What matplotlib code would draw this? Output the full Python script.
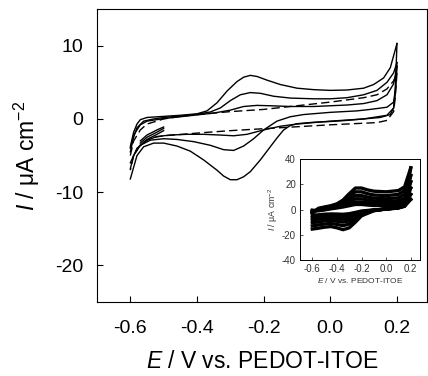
import matplotlib
matplotlib.use("Agg")
import matplotlib.pyplot as plt
import logging
logging.getLogger('matplotlib.font_manager').setLevel(logging.ERROR)

plt.rcParams['font.family'] = ['Liberation Sans', 'DejaVu Sans']
plt.rcParams['mathtext.fontset'] = 'custom'
plt.rcParams['mathtext.rm'] = 'Liberation Sans'
plt.rcParams['mathtext.it'] = 'Liberation Sans:italic'

# ---------------- main panel data ----------------
# curve 1 (largest)
c1_fwd_E = [-0.6, -0.59, -0.58, -0.57, -0.55, -0.5, -0.45, -0.4, -0.37, -0.34, -0.31, -0.28, -0.26, -0.24,
            -0.22, -0.19, -0.15, -0.1, -0.05, 0.0, 0.05, 0.1, 0.13, 0.16, 0.18, 0.2]
c1_fwd_I = [-3.8, -1.8, -0.7, -0.1, 0.2, 0.35, 0.5, 0.7, 1.1, 2.2, 3.8, 5.1, 5.7, 5.95,
            5.8, 5.3, 4.7, 4.2, 4.0, 3.9, 3.95, 4.2, 4.7, 5.6, 7.0, 10.3]
c1_rev_E = [0.2, 0.195, 0.19, 0.18, 0.15, 0.1, 0.05, 0.0, -0.05, -0.1, -0.12, -0.14, -0.16, -0.18,
            -0.21, -0.24, -0.26, -0.28, -0.3, -0.32, -0.34, -0.38, -0.42, -0.46, -0.5, -0.53, -0.56, -0.58, -0.6]
c1_rev_I = [10.3, 4.0, 1.5, 0.6, 0.2, 0.0, -0.2, -0.35, -0.45, -0.65, -0.9, -1.5, -2.6, -3.8,
            -5.6, -7.2, -7.9, -8.3, -8.3, -7.8, -7.0, -5.6, -4.4, -3.7, -3.3, -3.3, -3.8, -5.0, -8.2]
c1_start_E = [-0.5, -0.52, -0.55, -0.57]
c1_start_I = [-1.6, -2.1, -2.8, -3.6]

# curve 2
c2_fwd_E = [-0.6, -0.59, -0.58, -0.56, -0.53, -0.5, -0.45, -0.4, -0.36, -0.33, -0.3, -0.27, -0.24,
            -0.21, -0.17, -0.12, -0.05, 0.0, 0.05, 0.1, 0.14, 0.17, 0.19, 0.2]
c2_fwd_I = [-4.5, -2.5, -1.2, -0.3, 0.0, 0.2, 0.4, 0.65, 0.95, 1.5, 2.5, 3.3, 3.6,
            3.5, 3.1, 2.85, 2.75, 2.75, 2.9, 3.3, 3.9, 5.0, 6.3, 7.7]
c2_rev_E = [0.2, 0.195, 0.19, 0.17, 0.12, 0.08, 0.0, -0.08, -0.12, -0.16, -0.2, -0.23, -0.26,
            -0.29, -0.32, -0.36, -0.41, -0.46, -0.5, -0.54, -0.57, -0.59, -0.6]
c2_rev_I = [7.7, 4.0, 2.3, 1.6, 1.3, 1.1, 0.9, 0.6, 0.3, -0.3, -1.5, -2.7, -3.7,
            -4.3, -4.2, -3.6, -3.1, -2.8, -2.7, -2.9, -3.6, -5.0, -6.8]
c2_start_E = [-0.5, -0.52, -0.55, -0.57]
c2_start_I = [-1.3, -1.8, -2.5, -3.3]

# curve 3
c3_fwd_E = [-0.6, -0.59, -0.57, -0.55, -0.5, -0.45, -0.4, -0.35, -0.3, -0.26, -0.22, -0.18, -0.12,
            -0.05, 0.0, 0.05, 0.1, 0.14, 0.17, 0.19, 0.2]
c3_fwd_I = [-4.0, -2.2, -0.8, -0.3, 0.05, 0.3, 0.55, 0.8, 1.2, 1.7, 1.85, 1.8, 1.7,
            1.7, 1.8, 1.9, 2.1, 2.5, 3.3, 4.8, 7.2]
c3_rev_E = [0.2, 0.195, 0.19, 0.17, 0.1, 0.0, -0.1, -0.15, -0.2, -0.25, -0.29, -0.33, -0.38,
            -0.43, -0.48, -0.52, -0.55, -0.58, -0.6]
c3_rev_I = [7.2, 3.5, 1.5, 0.5, 0.0, -0.3, -0.7, -1.0, -1.5, -2.1, -2.3, -2.2, -2.1,
            -2.1, -2.2, -2.4, -2.9, -4.0, -6.0]
c3_start_E = [-0.5, -0.52, -0.55, -0.57]
c3_start_I = [-1.1, -1.5, -2.2, -3.0]

# background (dashed)
bg_fwd_E = [-0.6, -0.59, -0.57, -0.55, -0.5, -0.45, -0.4, -0.3, -0.2, -0.1, 0.0, 0.1, 0.14,
            0.17, 0.19, 0.2]
bg_fwd_I = [-5.0, -3.0, -1.5, -0.7, 0.0, 0.35, 0.6, 1.0, 1.3, 1.8, 2.3, 2.9, 3.3,
            4.1, 5.2, 6.3]
bg_rev_E = [0.2, 0.195, 0.19, 0.17, 0.14, 0.0, -0.15, -0.3, -0.39, -0.5, -0.54, -0.57, -0.59, -0.6]
bg_rev_I = [6.3, 3.0, 1.0, -0.2, -0.5, -0.8, -1.2, -1.6, -1.9, -2.3, -2.6, -3.5, -5.0, -7.0]

main_xticks = [-0.6, -0.4, -0.2, 0.0, 0.2]
main_xticklabels = ['-0.6', '-0.4', '-0.2', '0.0', '0.2']
main_yticks = [10, 0, -10, -20]
main_yticklabels = ['10', '0', '-10', '-20']

# ---------------- inset data ----------------
in_fwd_E = [-0.6, -0.55, -0.5, -0.45, -0.4, -0.35, -0.3, -0.25, -0.2, -0.15, -0.1, 0.0, 0.1, 0.15, 0.2]
in_rev_E = [0.2, 0.15, 0.1, 0.0, -0.1, -0.2, -0.25, -0.3, -0.35, -0.4, -0.45, -0.5, -0.55, -0.6]
in_fwd_I = [
    [-3.0, 1.0, 2.0, 3.0, 4.5, 7.5, 12.5, 17.0, 17.0, 15.5, 14.5, 14.0, 15.0, 18.0, 33.0],
    [-2.5, 0.5, 1.5, 2.5, 3.8, 6.5, 10.5, 14.0, 14.0, 12.5, 11.5, 11.0, 12.0, 15.0, 27.0],
    [-2.0, 0.0, 1.0, 2.0, 3.0, 5.0, 8.5, 11.0, 11.0, 9.8, 9.0, 8.5, 9.3, 12.0, 22.0],
    [-1.5, -0.5, 0.5, 1.5, 2.3, 4.0, 6.5, 8.5, 8.5, 7.5, 6.8, 6.3, 7.0, 9.0, 17.0],
    [-1.0, -0.8, 0.0, 1.0, 1.8, 3.0, 4.8, 6.0, 6.0, 5.3, 4.8, 4.5, 5.0, 6.5, 12.0],
    [-0.5, -1.0, -0.3, 0.5, 1.2, 2.0, 3.0, 4.0, 4.0, 3.5, 3.2, 3.0, 3.5, 4.5, 8.0],
]
in_rev_I = [
    [33.0, 3.0, 1.5, 0.5, -1.0, -5.0, -10.0, -14.5, -16.0, -14.5, -13.5, -14.0, -14.8, -15.5],
    [27.0, 3.0, 1.5, 0.5, -0.8, -4.0, -8.0, -11.5, -12.8, -11.8, -11.0, -11.5, -12.2, -13.0],
    [22.0, 3.0, 1.5, 0.5, -0.6, -3.0, -6.3, -9.0, -10.0, -9.3, -8.7, -9.0, -9.8, -10.5],
    [17.0, 3.0, 1.5, 0.4, -0.5, -2.3, -4.8, -7.0, -7.7, -7.2, -6.8, -7.0, -7.6, -8.2],
    [12.0, 2.8, 1.4, 0.3, -0.4, -1.7, -3.5, -5.0, -5.6, -5.3, -5.0, -5.2, -5.8, -6.3],
    [8.0, 2.5, 1.2, 0.2, -0.3, -1.2, -2.3, -3.3, -3.8, -3.6, -3.5, -3.7, -4.2, -4.5],
]
in_xticks = [-0.6, -0.4, -0.2, 0.0, 0.2]
in_xticklabels = ['-0.6', '-0.4', '-0.2', '0.0', '0.2']
in_yticks = [-40, -20, 0, 20, 40]
in_yticklabels = ['-40', '-20', '0', '20', '40']

# ---------------- figure ----------------
fig = plt.figure(figsize=(4.28, 3.76), dpi=100)
ax = fig.add_axes([0.2266, 0.1968, 0.771, 0.779])

lw = 1.0
for E, I in [(c1_fwd_E, c1_fwd_I), (c1_rev_E, c1_rev_I), (c1_start_E, c1_start_I),
             (c2_fwd_E, c2_fwd_I), (c2_rev_E, c2_rev_I), (c2_start_E, c2_start_I),
             (c3_fwd_E, c3_fwd_I), (c3_rev_E, c3_rev_I), (c3_start_E, c3_start_I)]:
    ax.plot(E, I, color='black', lw=lw, solid_joinstyle='round')
ax.plot(bg_fwd_E, bg_fwd_I, color='black', lw=lw, ls=(0, (6, 3)))
ax.plot(bg_rev_E, bg_rev_I, color='black', lw=lw, ls=(0, (6, 3)))

ax.set_xlim(-0.7, 0.29)
ax.set_ylim(-25, 15)
ax.set_xticks(main_xticks)
ax.set_xticklabels(main_xticklabels)
ax.set_yticks(main_yticks)
ax.set_yticklabels(main_yticklabels)
ax.tick_params(direction='in', length=4, width=0.8, labelsize=14)
ax.tick_params(axis='x', pad=13)
ax.tick_params(axis='y', pad=10)
for s in ax.spines.values():
    s.set_linewidth(0.8)
ax.set_xlabel(r'$\it{E}$ / V vs. PEDOT-ITOE', fontsize=16.5, labelpad=9)
ax.set_ylabel(r'$\it{I}$ / $\mathrm{\mu}$A cm$^{-2}$', fontsize=16.5, labelpad=9)

# inset
axi = fig.add_axes([0.7009, 0.3085, 0.2804, 0.2686])
for k in range(len(in_fwd_I)):
    axi.plot(in_fwd_E, in_fwd_I[k], color='black', lw=2.4)
    axi.plot(in_rev_E, in_rev_I[k], color='black', lw=2.4)
axi.set_xlim(-0.7, 0.275)
axi.set_ylim(-40, 40)
axi.set_xticks(in_xticks)
axi.set_xticklabels(in_xticklabels)
axi.set_yticks(in_yticks)
axi.set_yticklabels(in_yticklabels)
axi.tick_params(direction='in', length=2, width=0.6, labelsize=7, pad=3, colors='#333333')
for s in axi.spines.values():
    s.set_linewidth(0.7)
axi.set_xlabel(r'$\it{E}$ / V vs. PEDOT-ITOE', fontsize=6, labelpad=1.5, color='#333333')
axi.set_ylabel(r'$\it{I}$ / $\mathrm{\mu}$A cm$^{-2}$', fontsize=6.3, labelpad=1, color='#333333')

fig.savefig('out.png', dpi=100)
